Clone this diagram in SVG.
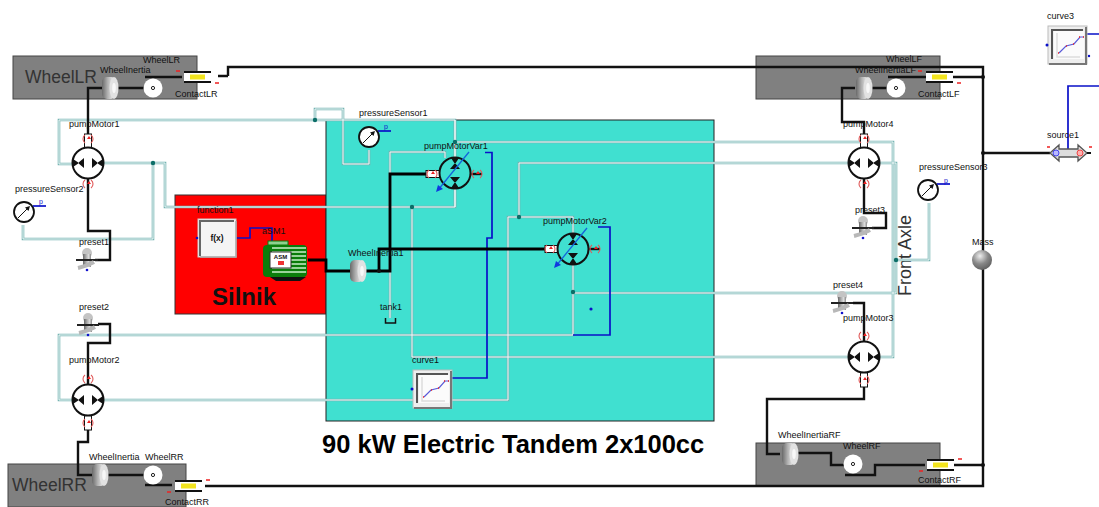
<svg xmlns="http://www.w3.org/2000/svg" xmlns:xlink="http://www.w3.org/1999/xlink" width="1099" height="507" viewBox="0 0 1099 507">
<style>
text{font-family:"Liberation Sans",Arial,sans-serif;font-size:9px;fill:#111}
.big{font-size:17.5px;fill:#333}
.title{font-weight:bold;font-size:25.5px;fill:#000}
.sil{font-weight:bold;font-size:24px;fill:#111}
.tiny{font-size:6px;font-weight:bold}
.pl{font-size:7px;fill:#11c}
.panel{fill:#808080;stroke:#444;stroke-width:1}
.k,.ko,.ho,.hi,.b{fill:none}
.k{stroke:#111;stroke-width:2.4}
.ko{stroke:#000;stroke-width:2.800}
.ho{stroke:#76b4b2;stroke-width:2.6}
.hi{stroke:#f2fafa;stroke-width:1}
.b{stroke:#0a10c8;stroke-width:1.7}
.hd{fill:#0c6e68}
.kd{fill:#111}
.bd{fill:#0a10c8}
.arc{fill:none;stroke:#e05a5a;stroke-width:1.1}
</style>
<defs>
<linearGradient id="cyl" x1="0" x2="1" y1="0" y2="0"><stop offset="0" stop-color="#6a6a6a"/><stop offset=".4" stop-color="#b0b0b0"/><stop offset=".7" stop-color="#dcdcdc"/><stop offset="1" stop-color="#8a8a8a"/></linearGradient>
<radialGradient id="ball" cx=".4" cy=".3" r=".8"><stop offset="0" stop-color="#eee"/><stop offset=".5" stop-color="#888"/><stop offset="1" stop-color="#555"/></radialGradient>
<g id="inertia"><rect x="-8" y="-11" width="14" height="22" rx="5" fill="url(#cyl)"/><ellipse cx="4" cy="0" rx="4.500" ry="11" fill="#e2e2e2"/><ellipse cx="4" cy="0" rx="1.800" ry="5" fill="#f8f8f8"/></g>
<g id="wheel"><circle r="9.5" fill="#fff"/><circle r="1.6" fill="#fff" stroke="#222"/></g>
<g id="contact"><rect x="-14" y="-5" width="27" height="10" fill="#fff"/><path d="M-14-5H13M-14 5H13" fill="none" stroke="#111" stroke-width="2"/><rect x="-8" y="-2.500" width="15" height="5" fill="#f2e41e"/><path d="M-22-6h4M17 6h4" stroke="#e22" stroke-width="1.5"/></g>
<g id="pumpbody"><circle r="15.5" fill="#fff" stroke="#111" stroke-width="2"/><path d="M-15-4l6 4-6 4zM-4-5l-6 5 6 5zM15-4l-6 4 6 4zM4-5l6 5-6 5z" fill="#111"/></g>
<g id="varbody"><circle r="15.5" fill="#40e0d0" stroke="#111" stroke-width="2"/><path d="M-4-15l4 6 4-6zM-5-4l5-6 5 6zM-4 15l4-6 4 6zM-5 4l5 6 5-6z" fill="#111"/><path d="M-17 17L14-21" stroke="#1464dc" stroke-width="1.3"/><path d="M-19 19l2-7 5 4z" fill="#1038e0"/></g>
<g id="shaft"><rect x="-3.5" y="0" width="7" height="14" fill="#fff" stroke="#111" stroke-width="1"/></g>
<g id="flange"><path class="arc" d="M-3-4a5 5 0 0 0 0 8M3-4a5 5 0 0 1 0 8"/><path d="M1-3l2 3h-4z" fill="#e22"/></g>
<g id="preset"><ellipse cx="0" cy="-7" rx="5" ry="5" fill="#c4c4c4"/><rect x="-4" y="-6" width="8" height="13" fill="url(#cyl)"/><path d="M-11 0H11" stroke="#222" stroke-width="2"/><path d="M-9 8q9-2 16-6" stroke="#b8b8b8" stroke-width="4" fill="none"/><circle cy="10" r="1.3" fill="#11c"/></g>
<g id="sensor"><circle r="10" fill="#fff" stroke="#111" stroke-width="1.8"/><path d="M-6 6L4-4" stroke="#111"/><path d="M6-6l-5 1.5 3.500 3.500z" fill="#111"/><path d="M9-6H22" class="b" stroke-width="1"/></g>
<g id="curveblock"><rect x="0" y="0" width="39" height="38" fill="#eee" stroke="#bbb"/><path d="M38 1V38H1" fill="none" stroke="#777" stroke-width="2"/><rect x="6" y="5" width="30" height="28" fill="#fbfbfb"/><path d="M4 33V4H35" fill="none" stroke="#555" stroke-width="2"/><path d="M9 7V31H32" fill="none" stroke="#ddd" stroke-width="1.500"/><path d="M11 27l7-7 8-2 6-7 4 0" fill="none" stroke="#5a5ad8" stroke-width="1.2"/><path d="M10 27h1M18 20h1M25 18h1M31 11h1M35 11h1" stroke="#e22" stroke-width="1.400"/></g>
<path id="h1" d="M73 164H59V120H455V207H165V163H103"/>
<path id="h2" d="M153 163V239H23V225"/>
<path id="h3" d="M315 120V109H343V164H369V150"/>
<path id="h4" d="M455 120V158M455 188V207M455 142H893V357H880"/>
<path id="h5" d="M412 207V357H848"/>
<path id="h6" d="M445 158V152H390V318"/>
<path id="h7" d="M573 234V217H508V400H103"/>
<path id="h8" d="M519 217V163H850M880 163H896V293H573"/>
<path id="h9" d="M896 260H929V203"/>
<path id="h10" d="M573 264V335H59V400H73"/>
</defs>
<rect width="1099" height="507" fill="#fff"/>
<rect x="175" y="195" width="151" height="119" fill="#ff0000" stroke="#333"/>
<rect x="326" y="120" width="388" height="301" fill="#40e0d0" stroke="#222"/>
<rect class="panel" x="13" y="56" width="184" height="43"/>
<rect class="panel" x="756" y="56" width="184" height="43"/>
<rect class="panel" x="756" y="443" width="184" height="43"/>
<rect class="panel" x="8" y="464" width="178" height="43"/>
<text class="title" x="322" y="453">90 kW Electric Tandem 2x100cc</text>
<text class="sil" x="212" y="305">Silnik</text>
<text class="big" x="25" y="83">WheelLR</text>
<text class="big" x="12" y="491">WheelRR</text>
<text class="big" style="font-size:18px" transform="translate(911 296) rotate(-90)">Front Axle</text>
<g id="connectors">
<g class="ho"><use xlink:href="#h1"/><use xlink:href="#h2"/><use xlink:href="#h3"/><use xlink:href="#h4"/><use xlink:href="#h5"/><use xlink:href="#h6"/><use xlink:href="#h7"/><use xlink:href="#h8"/><use xlink:href="#h9"/><use xlink:href="#h10"/></g>
<g class="hi"><use xlink:href="#h1"/><use xlink:href="#h2"/><use xlink:href="#h3"/><use xlink:href="#h4"/><use xlink:href="#h5"/><use xlink:href="#h6"/><use xlink:href="#h7"/><use xlink:href="#h8"/><use xlink:href="#h9"/><use xlink:href="#h10"/></g>
<g class="hd"><circle cx="153" cy="163" r="2.200"/><circle cx="315" cy="120" r="2.200"/><circle cx="455" cy="142" r="2.200"/><circle cx="412" cy="207" r="2.200"/><circle cx="519" cy="217" r="2.200"/><circle cx="573" cy="292" r="2.200"/><circle cx="896" cy="260" r="2.200"/></g>
<path class="b" d="M485 152.500H492V238H487V378H452M598 227H610V335H573M236 238H250V228H272V244M1068 150V86H1099M1087 34H1099"/>
<circle class="bd" cx="591" cy="309" r="1.600"/>
<path class="k" d="M228 76V67H983V486H205M218 76H228M953 77H983M953 465H983M983 153H1050"/>
<path class="k" d="M88 134V88H102M118 88H153M145 77H182M88 178V231H110V260H95M98 324H110V343H88V385M88 430V442H78V475H92M108 475H153M145 485H172"/>
<path class="k" d="M864 148V122H842V88H855M872 88H896M888 77H926M864 178V213H886V228H872M853 303H864V342M864 372V399H767V454H780M797 453H831V465H853M845 475H875V465H925"/>
<path class="ko" d="M308 260H326V271H390V174H427M379 271V249H545"/>
<g class="kd"><circle cx="983" cy="77" r="2"/><circle cx="983" cy="153" r="2"/><circle cx="983" cy="465" r="2"/><circle cx="379" cy="271" r="2"/></g>
</g>
<g id="WheelLR"><text x="143" y="63">WheelLR</text><use xlink:href="#wheel" x="153" y="88"/></g>
<g id="WheelInertiaLR"><text x="100" y="73">WheelInertia</text><use xlink:href="#inertia" x="110" y="88"/></g>
<g id="ContactLR"><text x="175" y="97">ContactLR</text><use xlink:href="#contact" x="198" y="77"/></g>
<g id="WheelLF"><text x="886" y="62">WheelLF</text><use xlink:href="#wheel" x="896" y="88"/></g>
<g id="WheelInertiaLF"><text x="855" y="73">WheelInertiaLF</text><use xlink:href="#inertia" x="864" y="88"/></g>
<g id="ContactLF"><text x="918" y="97">ContactLF</text><use xlink:href="#contact" x="940" y="77"/></g>
<g id="WheelRF"><text x="843" y="449">WheelRF</text><use xlink:href="#wheel" x="853" y="464"/></g>
<g id="WheelInertiaRF"><text x="778" y="438">WheelInertiaRF</text><use xlink:href="#inertia" x="790" y="454"/></g>
<g id="ContactRF"><text x="918" y="483">ContactRF</text><use xlink:href="#contact" transform="translate(940 465) scale(-1 1)"/></g>
<g id="WheelRR"><text x="145" y="460">WheelRR</text><use xlink:href="#wheel" x="153" y="475"/></g>
<g id="WheelInertiaRR"><text x="89" y="460">WheelInertia</text><use xlink:href="#inertia" x="100" y="475"/></g>
<g id="ContactRR"><text x="165" y="505">ContactRR</text><use xlink:href="#contact" transform="translate(188 486) scale(-1 1)"/></g>
<g id="pumpMotor1"><text x="69" y="127">pumpMotor1</text><use xlink:href="#shaft" x="88" y="134"/><use xlink:href="#flange" x="88" y="139"/><use xlink:href="#pumpbody" x="88" y="163"/><use xlink:href="#flange" x="88" y="184"/></g>
<g id="pumpMotor2"><text x="69" y="363">pumpMotor2</text><use xlink:href="#flange" x="88" y="379"/><use xlink:href="#pumpbody" x="88" y="400"/><use xlink:href="#shaft" x="88" y="416"/><use xlink:href="#flange" x="88" y="423"/></g>
<g id="pumpMotor3"><text x="843" y="321">pumpMotor3</text><use xlink:href="#flange" x="864" y="336"/><use xlink:href="#pumpbody" x="864" y="357"/><use xlink:href="#shaft" x="864" y="373"/><use xlink:href="#flange" x="864" y="380"/></g>
<g id="pumpMotor4"><text x="843" y="127">pumpMotor4</text><use xlink:href="#shaft" x="864" y="134"/><use xlink:href="#flange" x="864" y="139"/><use xlink:href="#pumpbody" x="864" y="163"/><use xlink:href="#flange" x="864" y="184"/></g>
<g id="pumpMotorVar1"><text x="424" y="149">pumpMotorVar1</text><use xlink:href="#shaft" transform="translate(426 174) rotate(-90)"/><use xlink:href="#flange" x="432" y="174"/><use xlink:href="#varbody" x="455" y="173"/><path class="k" d="M471 174H482"/><use xlink:href="#flange" x="477" y="174"/></g>
<g id="pumpMotorVar2"><text x="543" y="224">pumpMotorVar2</text><use xlink:href="#shaft" transform="translate(545 249) rotate(-90)"/><use xlink:href="#flange" x="550" y="249"/><use xlink:href="#varbody" x="573" y="249"/><path class="k" d="M589 249H600"/><use xlink:href="#flange" x="595" y="249"/></g>
<g id="pressureSensor1"><text x="359" y="116">pressureSensor1</text><use xlink:href="#sensor" x="369" y="137"/><text class="pl" x="384" y="129">p</text></g>
<g id="pressureSensor2"><text x="15" y="192">pressureSensor2</text><use xlink:href="#sensor" x="24" y="212"/><text class="pl" x="39" y="204">p</text></g>
<g id="pressureSensor3"><text x="919" y="170">pressureSensor3</text><use xlink:href="#sensor" x="928" y="190"/><text class="pl" x="944" y="183">p</text></g>
<g id="preset1"><text x="79" y="245">preset1</text><use xlink:href="#preset" x="87" y="260"/></g>
<g id="preset2"><text x="79" y="310">preset2</text><use xlink:href="#preset" x="88" y="325"/></g>
<g id="preset3"><text x="855" y="213">preset3</text><use xlink:href="#preset" x="863" y="228"/></g>
<g id="preset4"><text x="833" y="288">preset4</text><use xlink:href="#preset" x="842" y="303"/></g>
<g id="function1"><text x="197" y="213">function1</text><rect x="198" y="219" width="38" height="38" fill="#f4f4f4" stroke="#ccc"/><path d="M200 256V221H234" fill="none" stroke="#666" stroke-width="2"/><path d="M236 221V257H200" fill="none" stroke="#aaa" stroke-width="1.500"/><text x="217" y="241" text-anchor="middle" style="font-size:8.500px;font-weight:bold">f(x)</text><circle class="bd" cx="197" cy="238" r="1.300"/></g>
<g id="asM1"><text x="262" y="234">aSM1</text><rect x="268" y="241" width="20" height="4" fill="#8fd08f" stroke="#0a7a0a"/><path d="M270 277l6 4h24l6-4z" fill="#111"/><rect x="263" y="245" width="44" height="32" rx="4" fill="#0b7d0b"/><path d="M272 248H306M272 252H306M272 256H306M272 260H306M272 264H306M272 268H306M272 272H306" stroke="#9ad29a" stroke-width="1.800"/><rect x="270" y="252" width="21" height="16" fill="#fff" stroke="#333"/><text class="tiny" x="280.500" y="259" text-anchor="middle">ASM</text><rect x="278" y="261" width="6" height="4" fill="#e33"/></g>
<g id="WheelInertia1"><text x="348" y="256">WheelInertia1</text><use xlink:href="#inertia" x="358" y="271"/></g>
<g id="tank1"><text x="380" y="310">tank1</text><path d="M385.500 318V323H395.500V318" fill="none" stroke="#111" stroke-width="1.500"/></g>
<g id="curve1"><text x="412" y="363">curve1</text><use xlink:href="#curveblock" x="413" y="370"/><circle class="bd" cx="412" cy="389" r="1.500"/></g>
<g id="curve3"><text x="1047" y="19">curve3</text><use xlink:href="#curveblock" x="1048" y="26"/><circle class="bd" cx="1047" cy="45" r="1.500"/><circle class="bd" cx="1089" cy="56" r="1.200"/></g>
<g id="source1"><text x="1047" y="138">source1</text><path d="M1050 153l9-8v4h19v-4l9 8-9 8v-4h-19v4z" fill="#ddd" stroke="#555" stroke-width="1.300"/><circle cx="1056" cy="153" r="3" fill="#b9b9ff" stroke="#44e"/><circle cx="1080" cy="153" r="3" fill="#ffb0b0" stroke="#e44"/><path d="M1087 153h4" stroke="#111" stroke-width="2"/><path d="M1050 147h-3M1089 147h3" stroke="#e22" stroke-width="1.500"/></g>
<g id="Mass"><text x="972" y="245">Mass</text><circle cx="982" cy="260" r="10" fill="url(#ball)"/></g>
</svg>
